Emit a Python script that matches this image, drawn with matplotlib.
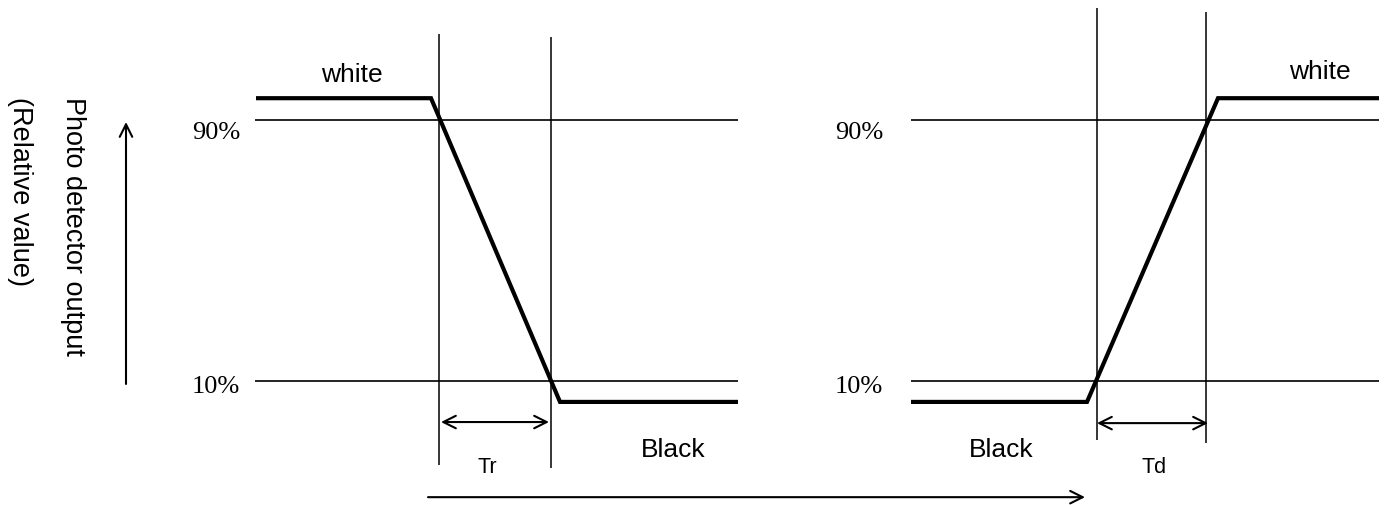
import matplotlib
matplotlib.use("Agg")
import matplotlib.pyplot as plt

# ---- data (x: time axis units, y: relative detector output %) ----
levels_pct = [90, 10]
level_labels = ["90%", "10%"]
white_level = 96.7
black_level = 3.6

# falling (white -> black) response
fall_time = [256, 431, 560, 738]
fall_level = [white_level, white_level, black_level, black_level]
fall_span = (255, 738)
tr_marks = [439, 551]
tr_mark_top = [116.4, 115.4]
tr_mark_bottom = [-15.7, -16.7]

# rising (black -> white) response
rise_time = [911, 1087, 1218, 1379]
rise_level = [black_level, black_level, white_level, white_level]
rise_span = (911, 1379)
td_marks = [1097, 1206]
td_mark_top = [124.3, 123.1]
td_mark_bottom = [-8.1, -9.0]

fig = plt.figure(figsize=(13.89, 5.05), dpi=100)
ax = fig.add_axes([0, 0, 1, 1])
ax.set_xlim(0, 1389)
ax.set_ylim(-28.0, 126.8)
ax.axis("off")

sans = "Liberation Sans"
serif = "Liberation Serif"

# threshold lines
for lv in levels_pct:
    ax.plot(fall_span, [lv, lv], color="black", lw=1.2, solid_capstyle="butt")
    ax.plot(rise_span, [lv, lv], color="black", lw=1.2, solid_capstyle="butt")

# vertical markers
for x, t, b in zip(tr_marks + td_marks, tr_mark_top + td_mark_top, tr_mark_bottom + td_mark_bottom):
    ax.plot([x, x], [b, t], color="black", lw=1.1, solid_capstyle="butt")

# responses
ax.plot(fall_time, fall_level, color="black", lw=3.0, solid_joinstyle="miter", solid_capstyle="butt")
ax.plot(rise_time, rise_level, color="black", lw=3.0, solid_joinstyle="miter", solid_capstyle="butt")

# double arrows
arr = dict(arrowstyle="<->,head_length=0.9,head_width=0.45", color="black", lw=1.5,
           shrinkA=0, shrinkB=0)
ax.annotate("", xy=(tr_marks[0] + 2, -2.57), xytext=(tr_marks[1] - 2, -2.57), arrowprops=arr)
ax.annotate("", xy=(td_marks[0], -2.9), xytext=(td_marks[1] + 2, -2.9), arrowprops=arr)

# axis arrows
one = dict(arrowstyle="->,head_length=0.9,head_width=0.45", color="black", lw=1.5,
           shrinkA=0, shrinkB=0)
ax.annotate("", xy=(126, 89.4), xytext=(126, 9.1), arrowprops=one)
ax.annotate("", xy=(1085, -25.6), xytext=(428, -25.6), arrowprops=one)

# level labels
for lv, lab, y in zip(levels_pct, level_labels, [86.0, 8.2]):
    ax.text(240, y, lab, fontsize=19, family=serif, ha="right", va="center")
    ax.text(883, y, lab, fontsize=19, family=serif, ha="right", va="center")

# text labels
ax.text(352, 103.8, "white", fontsize=19, family=sans, ha="center", va="center")
ax.text(1320, 104.7, "white", fontsize=19, family=sans, ha="center", va="center")
ax.text(673, -11.1, "Black", fontsize=19, family=sans, ha="center", va="center")
ax.text(1001, -11.1, "Black", fontsize=19, family=sans, ha="center", va="center")
ax.text(487, -16.4, "Tr", fontsize=15.5, family=sans, ha="center", va="center")
ax.text(1154, -16.4, "Td", fontsize=15.5, family=sans, ha="center", va="center")

ax.text(73, 97.0, "Photo detector output", fontsize=19.5, family=sans, rotation=270,
        ha="center", va="top")
ax.text(20, 97.0, "(Relative value)", fontsize=19.5, family=sans, rotation=270,
        ha="center", va="top")

fig.savefig("out.png", dpi=100)
